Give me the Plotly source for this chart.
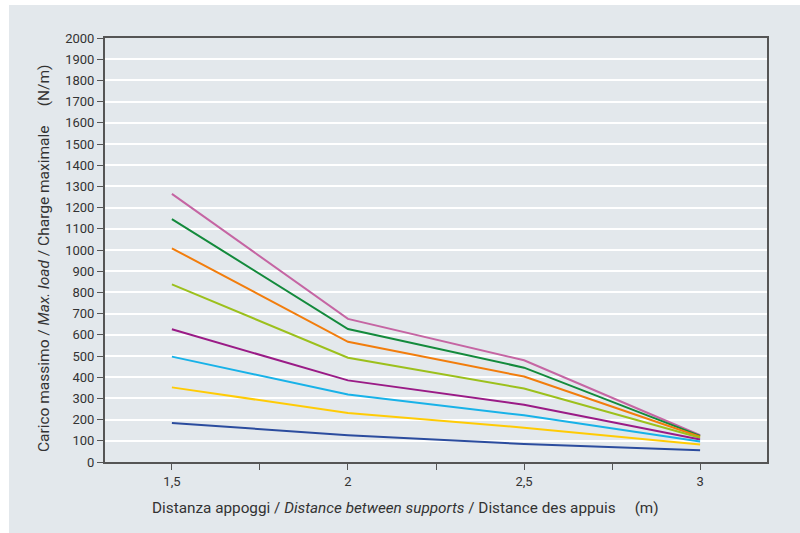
import plotly.graph_objects as go

distances = [1.5, 2.0, 2.5, 3.0]
x_tick_vals = [1.5, 2.0, 2.5, 3.0]
x_tick_text = ["1,5", "2", "2,5", "3"]
x_minor_vals = [1.75, 2.25, 2.75]

series_pink = [1265, 675, 480, 126]
series_green = [1146, 627, 445, 123]
series_orange = [1008, 567, 403, 119]
series_lime = [838, 492, 347, 114]
series_purple = [626, 385, 270, 106]
series_cyan = [497, 318, 220, 97]
series_yellow = [352, 231, 162, 82]
series_blue = [184, 126, 85, 55]

series = [
    (series_pink, "#c565a3"),
    (series_green, "#138a3c"),
    (series_orange, "#f27d0c"),
    (series_lime, "#9cc01c"),
    (series_purple, "#9a1b86"),
    (series_cyan, "#18b2e8"),
    (series_yellow, "#ffcb05"),
    (series_blue, "#2b4c9e"),
]

FONT = "Roboto, Liberation Sans Narrow, sans-serif"
BG = "#e3e8ec"

fig = go.Figure()
for vals, col in series:
    fig.add_trace(go.Scatter(x=distances, y=vals, mode="lines",
                             line=dict(color=col, width=2), showlegend=False,
                             hoverinfo="skip"))

# white page strips: 5px along the top, 9px along the left
fig.add_shape(type="rect", xref="paper", yref="paper",
              x0=-0.2, x1=1.2, y0=1.0778, y1=1.2,
              fillcolor="white", line=dict(width=0), layer="below")
fig.add_shape(type="rect", xref="paper", yref="paper",
              x0=-0.2, x1=-0.145, y0=-0.3, y1=1.2,
              fillcolor="white", line=dict(width=0), layer="below")

nb = "\u00a0"
x_title = ("Distanza appoggi / <i>Distance between supports</i> / Distance des appuis"
           + nb * 5 + "(m)")
y_title = "Carico massimo / <i>Max. load</i> / Charge maximale" + nb * 5 + "(N/m)"

fig.add_annotation(text=x_title, xref="paper", yref="paper", x=0.454, y=-0.1085,
                   xanchor="center", yanchor="middle", showarrow=False,
                   font=dict(size=15.3, family=FONT, color="#333"))
fig.add_annotation(text=y_title, xref="paper", yref="paper", x=-0.0921, y=0.481,
                   xanchor="center", yanchor="middle", showarrow=False, textangle=-90,
                   font=dict(size=15.5, family=FONT, color="#333"))

fig.update_layout(
    width=800, height=533,
    margin=dict(l=105, r=33, t=38, b=71),
    paper_bgcolor=BG,
    plot_bgcolor="rgba(0,0,0,0)",
    font=dict(family=FONT, color="#333333", size=13),
    xaxis=dict(
        automargin=False,
        range=[1.31, 3.19],
        tickvals=x_tick_vals, ticktext=x_tick_text,
        ticks="outside", ticklen=6, tickcolor="#555", tickwidth=1.3,
        showgrid=False, zeroline=False,
        showline=True, linecolor="#555", linewidth=2, mirror=True,
        minor=dict(tickvals=x_minor_vals, ticks="outside", ticklen=6,
                   tickcolor="#555", tickwidth=1.3, showgrid=False),
        tickfont=dict(size=13, family=FONT, color="#333"),
    ),
    yaxis=dict(
        automargin=False,
        range=[0, 2000], dtick=100,
        ticks="outside", ticklen=6, tickcolor="#555", tickwidth=1.3,
        showgrid=True, gridcolor="white", gridwidth=1.5,
        zeroline=False,
        showline=True, linecolor="#555", linewidth=2, mirror=True,
        tickfont=dict(size=13, family=FONT, color="#333"),
    ),
)

fig.write_html("out.html",
               config={"displayModeBar": False},
               post_script="document.body.style.margin='0';document.body.style.overflow='hidden';document.body.style.background='#e3e8ec';")
